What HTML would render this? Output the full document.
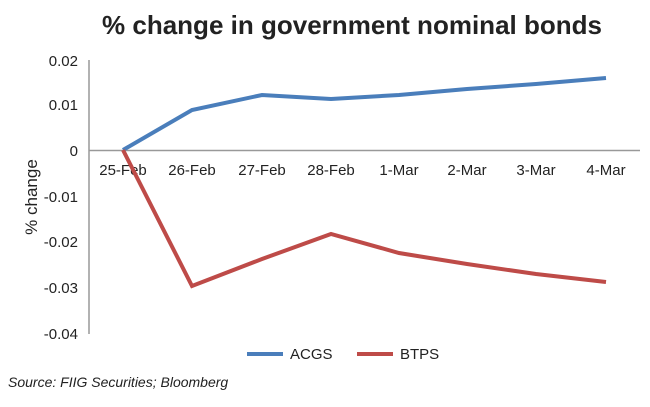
<!DOCTYPE html>
<html><head><style>body{margin:0;background:#fff}</style></head><body>
<svg width="650" height="402" xmlns="http://www.w3.org/2000/svg" font-family="Liberation Sans, Arial, sans-serif">
<rect width="650" height="402" fill="#fff"/>
<text x="352" y="34" text-anchor="middle" font-size="26" font-weight="bold" fill="#222" textLength="500" lengthAdjust="spacingAndGlyphs">% change in government nominal bonds</text>
<line x1="89" y1="60" x2="89" y2="334" stroke="#999" stroke-width="1.5"/>
<line x1="89" y1="150.5" x2="640" y2="150.5" stroke="#999" stroke-width="1.5"/>
<g font-size="15" fill="#222" text-anchor="end">
<text x="78" y="66">0.02</text><text x="78" y="110">0.01</text><text x="78" y="156">0</text>
<text x="78" y="202">-0.01</text><text x="78" y="247">-0.02</text><text x="78" y="293">-0.03</text><text x="78" y="339">-0.04</text>
</g>
<text transform="translate(37,197) rotate(-90)" text-anchor="middle" font-size="17" fill="#222">% change</text>
<g font-size="15" fill="#222" text-anchor="middle">
<text x="123" y="175">25-Feb</text><text x="192" y="175">26-Feb</text><text x="262" y="175">27-Feb</text><text x="331" y="175">28-Feb</text>
<text x="399" y="175">1-Mar</text><text x="467" y="175">2-Mar</text><text x="536" y="175">3-Mar</text><text x="606" y="175">4-Mar</text>
</g>
<polyline points="123,150 192,110 262,95 331,99 399,95 467,89 536,84 606,78" fill="none" stroke="#4a7ebb" stroke-width="4"/>
<polyline points="123,150 192,286 262,259 331,234 399,253 467,264 536,274 606,282" fill="none" stroke="#be4b48" stroke-width="4"/>
<line x1="247" y1="354" x2="283" y2="354" stroke="#4a7ebb" stroke-width="4"/>
<text x="290" y="359" font-size="15" fill="#222">ACGS</text>
<line x1="357" y1="354" x2="393" y2="354" stroke="#be4b48" stroke-width="4"/>
<text x="400" y="359" font-size="15" fill="#222">BTPS</text>
<text x="8" y="387" font-size="14" font-style="italic" fill="#222">Source: FIIG Securities; Bloomberg</text>
</svg>
</body></html>
